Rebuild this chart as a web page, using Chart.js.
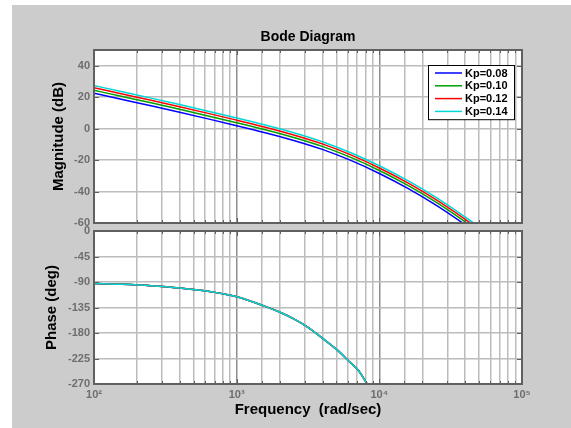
<!DOCTYPE html>
<html>
<head>
<meta charset="utf-8">
<script src="https://cdn.jsdelivr.net/npm/chart.js@4.4.1/dist/chart.umd.min.js"></script>
<style>
  html, body { margin: 0; padding: 0; background: #fff; }
  #wrap { position: relative; width: 571px; height: 428px; overflow: hidden; background: #fff; }
  #panel { position: absolute; left: 12px; top: 5px; right: 0; bottom: 0; background: #cccccc; }
  canvas { position: absolute; left: 0; top: 0; }
</style>
</head>
<body>
<div id="wrap">
  <div id="panel"></div>
  <canvas id="magChart" width="571" height="428"></canvas>
  <canvas id="phaseChart" width="571" height="428"></canvas>
</div>
<script>
// Data
const freqs = [100, 158, 251, 398, 631, 1000, 1585, 2512, 3981, 6310, 10000, 15849, 25119, 39811, 50119];
const kpLabels = ['Kp=0.08', 'Kp=0.10', 'Kp=0.12', 'Kp=0.14'];
const kpColors = ['#0000ff', '#00a000', '#ff0000', '#00d8d8'];

// magnitude in dB, one array per Kp
const magKp008 = [22.5, 18.5, 14.5, 10.4, 6.2, 1.9, -2.6, -7.5, -13.2, -20.2, -28.5, -38.0, -48.8, -61.0, -67.5];
const magKp010 = [24.4, 20.4, 16.4, 12.3, 8.1, 3.8, -0.7, -5.6, -11.3, -18.3, -26.6, -36.1, -46.9, -59.1, -65.6];
const magKp012 = [26.0, 22.0, 18.0, 13.9, 9.7, 5.4, 0.9, -4.0, -9.7, -16.7, -25.0, -34.5, -45.3, -57.5, -64.0];
const magKp014 = [27.4, 23.4, 19.4, 15.3, 11.1, 6.8, 2.3, -2.6, -8.3, -15.3, -23.6, -33.1, -43.9, -56.1, -62.6];
const magSeries = [magKp008, magKp010, magKp012, magKp014];

// phase in degrees (same for every Kp)
const phaseFreqs = [100, 158, 251, 398, 631, 1000, 1585, 1995, 2512, 3162, 3981, 5012, 6310, 7079, 8318];
const phaseDeg = [-92.5, -94, -96.5, -100.5, -106.5, -116, -133, -143, -155, -170, -189, -209, -233, -245, -272];

// Axis limits / ticks
const freqMin = 100, freqMax = 100000;
const magMin = -60, magMax = 50, magStep = 20;
const phaseMin = -270, phaseMax = 0, phaseStep = 45;

const supDigits = { 0: '\u2070', 1: '\u00B9', 2: '\u00B2', 3: '\u00B3', 4: '\u2074', 5: '\u2075', 6: '\u2076' };

function isDecade(v) {
    const l = Math.log10(v);
    return Math.abs(l - Math.round(l)) < 1e-6;
}

const tickFont = { family: "'Liberation Sans', Arial, sans-serif", size: 11, weight: 'bold' };
const labelFont = { family: "'Liberation Sans', Arial, sans-serif", size: 15, weight: 'bold' };

// White axes background, frame + inner ticks like MATLAB axes
const framePlugin = {
    id: 'frame',
    beforeDraw(chart) {
        const { ctx, chartArea: ca } = chart;
        ctx.save();
        ctx.fillStyle = '#fff';
        ctx.fillRect(ca.left, ca.top, ca.right - ca.left, ca.bottom - ca.top);
        ctx.restore();
    },
    afterDraw(chart) {
        const { ctx, chartArea: ca, scales } = chart;
        ctx.save();
        ctx.strokeStyle = '#606060';
        ctx.lineWidth = 1;
        scales.x.ticks.forEach(t => {
            const px = Math.round(scales.x.getPixelForValue(t.value)) + 0.5;
            const len = isDecade(t.value) ? 5 : 3;
            ctx.beginPath();
            ctx.moveTo(px, ca.top); ctx.lineTo(px, ca.top + len);
            ctx.moveTo(px, ca.bottom); ctx.lineTo(px, ca.bottom - len);
            ctx.stroke();
        });
        scales.y.ticks.forEach(t => {
            const py = Math.round(scales.y.getPixelForValue(t.value)) + 0.5;
            ctx.beginPath();
            ctx.moveTo(ca.left, py); ctx.lineTo(ca.left + 5, py);
            ctx.moveTo(ca.right, py); ctx.lineTo(ca.right - 5, py);
            ctx.stroke();
        });
        ctx.lineWidth = 2;
        ctx.strokeRect(ca.left, ca.top, ca.right - ca.left, ca.bottom - ca.top);
        ctx.restore();
    }
};

// Legend box in the upper right corner of the magnitude axes
const boxLegendPlugin = {
    id: 'boxLegend',
    afterDraw(chart) {
        const { ctx, chartArea: ca } = chart;
        const w = 86, rowH = 12.8;
        const sets = chart.data.datasets;
        const h = rowH * sets.length + 3;
        const x0 = ca.right - 8 - w, y0 = ca.top + 15;
        ctx.save();
        ctx.fillStyle = '#fff';
        ctx.fillRect(x0, y0, w, h);
        ctx.strokeStyle = '#000';
        ctx.lineWidth = 1;
        ctx.strokeRect(x0 + 0.5, y0 + 0.5, w, h);
        ctx.font = 'bold 11px "Liberation Sans", Arial, sans-serif';
        ctx.textBaseline = 'middle';
        ctx.fillStyle = '#000';
        sets.forEach((ds, i) => {
            const y = y0 + 8 + i * rowH;
            ctx.strokeStyle = ds.borderColor;
            ctx.lineWidth = 1.5;
            ctx.beginPath();
            ctx.moveTo(x0 + 7, y); ctx.lineTo(x0 + 34, y);
            ctx.stroke();
            ctx.fillText(ds.label, x0 + 37, y + 0.5);
        });
        ctx.restore();
    }
};

function gridColor(c) {
    return c.tick && isDecade(c.tick.value) ? '#8e8e8e' : '#bcbcbc';
}

function xScale(showLabels) {
    return {
        type: 'logarithmic',
        min: freqMin,
        max: freqMax,
        grid: { color: gridColor, lineWidth: 1.5, drawTicks: false },
        border: { display: false },
        ticks: {
            display: showLabels,
            autoSkip: false,
            maxRotation: 0,
            padding: 4,
            color: '#6e6e6e',
            font: tickFont,
            callback: (v) => isDecade(v) ? '10' + supDigits[Math.round(Math.log10(v))] : ''
        },
        title: {
            display: showLabels,
            text: 'Frequency  (rad/sec)',
            color: '#000',
            font: labelFont,
            padding: { top: 0, bottom: 9 }
        },
        afterFit: (s) => { s.height = 428 - (showLabels ? 384 : 223); }
    };
}

function yScale(min, max, step, title, titlePad) {
    return {
        min: min,
        max: max,
        grid: { color: '#bcbcbc', lineWidth: 1.5, drawTicks: false },
        border: { display: false },
        ticks: {
            stepSize: step,
            padding: 4,
            color: '#6e6e6e',
            font: tickFont,
            callback: (v) => (v % step === 0 ? v : '')
        },
        title: {
            display: true,
            text: title,
            color: '#000',
            font: labelFont,
            padding: { top: titlePad, bottom: 0 }
        },
        afterFit: (s) => { s.width = 94; }
    };
}

// later Kp values are drawn on top, as in the reference
function makeDatasets(xs, ysFor) {
    return kpLabels.map((lbl, i) => ({
        label: lbl,
        data: xs.map((f, j) => ({ x: f, y: ysFor(i)[j] })),
        borderColor: kpColors[i],
        borderWidth: 1.5,
        pointRadius: 0,
        fill: false,
        order: kpLabels.length - i,
        cubicInterpolationMode: 'monotone'
    }));
}

const magChart = new Chart(document.getElementById('magChart'), {
    type: 'line',
    data: { datasets: makeDatasets(freqs, i => magSeries[i]) },
    options: {
        responsive: false,
        animation: false,
        layout: { padding: { top: 0, left: 0, right: 49, bottom: 0 } },
        scales: {
            x: xScale(false),
            y: yScale(magMin, magMax, magStep, 'Magnitude (dB)', 50)
        },
        plugins: {
            legend: { display: false },
            tooltip: { enabled: false },
            title: {
                display: true,
                fullSize: false,
                text: 'Bode Diagram',
                color: '#000',
                font: { family: "'Liberation Sans', Arial, sans-serif", size: 14, weight: 'bold' },
                padding: { top: 29, bottom: 4.2 }
            }
        }
    },
    plugins: [framePlugin, boxLegendPlugin]
});

const phaseChart = new Chart(document.getElementById('phaseChart'), {
    type: 'line',
    data: { datasets: makeDatasets(phaseFreqs, () => phaseDeg) },
    options: {
        responsive: false,
        animation: false,
        layout: { padding: { top: 231, left: 0, right: 49, bottom: 0 } },
        scales: {
            x: xScale(true),
            y: yScale(phaseMin, phaseMax, phaseStep, 'Phase (deg)', 43)
        },
        plugins: {
            legend: { display: false },
            tooltip: { enabled: false }
        }
    },
    plugins: [framePlugin]
});
</script>
</body>
</html>
